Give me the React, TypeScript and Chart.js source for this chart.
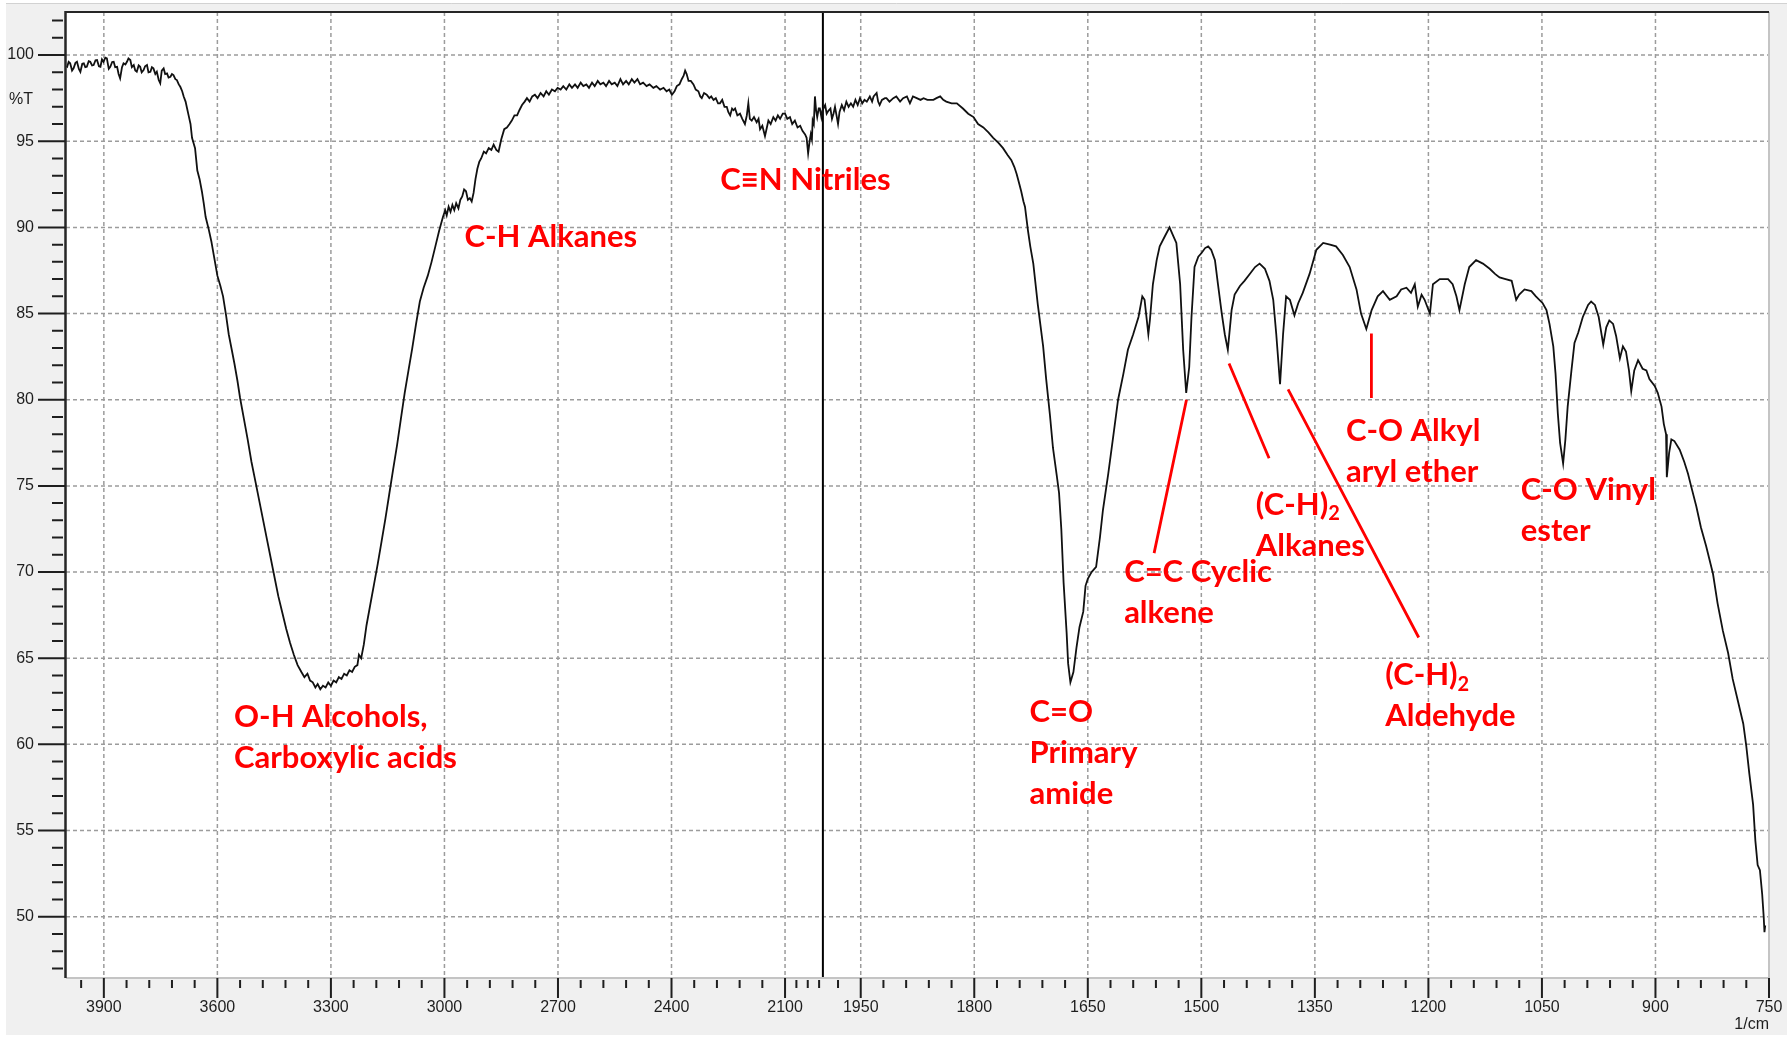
import React, { useEffect, useRef } from 'react';
import { Chart, registerables, LinearScale } from 'chart.js';

Chart.register(...registerables);

// ---- Spectrum: [wavenumber (1/cm), transmittance (%T)] ----
const hydroxylRegion: [number, number][] = [
  [3999, 99.35], [3997, 99.32], [3993, 99.6], [3989, 99.52], [3984, 99.1], [3980, 99.23], [3975, 99.55],
  [3971, 99.61], [3966, 99.2], [3962, 99.03], [3957, 99.5], [3953, 99.52], [3949, 99.3], [3945, 99.32],
  [3940, 99.65], [3936, 99.61], [3931, 99.4], [3927, 99.42], [3922, 99.7], [3918, 99.71], [3913, 99.35],
  [3909, 99.32], [3905, 99.75], [3901, 99.61], [3896, 99.85], [3892, 99.81], [3887, 99.2], [3883, 99.32],
  [3878, 99.6], [3874, 99.61], [3870, 99.3], [3865, 99.32], [3861, 98.9], [3857, 98.65], [3852, 99.3],
  [3848, 99.52], [3843, 99.45], [3839, 99.61], [3835, 99.8], [3830, 99.71], [3826, 99.3], [3821, 99.42],
  [3817, 99.1], [3813, 99.03], [3808, 99.4], [3804, 99.32], [3800, 99.0], [3795, 99.13], [3791, 99.35],
  [3786, 99.42], [3782, 99.0], [3777, 99.03], [3773, 99.3], [3769, 99.23], [3764, 98.9], [3760, 99.03],
  [3755, 98.55], [3751, 98.36], [3747, 99.1], [3742, 99.23], [3738, 98.9], [3733, 98.94], [3729, 98.7],
  [3724, 98.74], [3720, 98.9], [3716, 98.84], [3711, 98.6], [3707, 98.55], [3702, 98.3], [3698, 98.16],
  [3693, 97.9], [3689, 97.6], [3684, 97.3], [3680, 96.9], [3676, 96.5], [3671, 96.0], [3667, 95.2],
  [3663, 94.9], [3659, 94.6], [3653, 93.3], [3647, 92.8], [3641, 92.1], [3636, 91.4], [3631, 90.6],
  [3623, 89.9], [3616, 89.2], [3608, 88.2], [3600, 87.2], [3592, 86.6], [3585, 86.0], [3577, 84.9],
  [3570, 83.8], [3562, 82.9], [3555, 82.1], [3547, 81.1], [3540, 80.1], [3530, 78.9], [3520, 77.7],
  [3510, 76.4], [3499, 75.2], [3489, 74.1], [3479, 73.0], [3469, 71.9], [3459, 70.8], [3449, 69.7],
  [3439, 68.6], [3429, 67.7], [3418, 66.7], [3408, 65.9], [3398, 65.2], [3388, 64.6], [3378, 64.2],
  [3370, 63.9], [3362, 64.1], [3355, 63.7], [3348, 63.6], [3341, 63.3], [3335, 63.5], [3328, 63.2],
  [3321, 63.4], [3314, 63.3], [3307, 63.6], [3300, 63.4], [3293, 63.7], [3286, 63.6], [3279, 63.9],
  [3272, 63.8], [3265, 64.1], [3258, 64.0], [3251, 64.3], [3244, 64.2], [3237, 64.5], [3230, 64.6],
  [3226, 65.2], [3220, 65.0], [3213, 65.8], [3206, 66.9], [3196, 68.1], [3186, 69.3], [3176, 70.5],
  [3166, 71.8], [3156, 73.1], [3146, 74.5], [3136, 75.9], [3125, 77.4], [3115, 78.9], [3105, 80.4],
  [3095, 81.7], [3085, 83.0], [3075, 84.4], [3065, 85.7], [3055, 86.5], [3044, 87.2], [3034, 88.0],
  [3024, 88.9], [3014, 89.8], [3004, 90.6],
];

const stretchRegion: [number, number][] = [
  [2998, 91.0], [2994, 90.7], [2989, 91.2], [2984, 90.9], [2979, 91.3], [2974, 91.0], [2969, 91.4],
  [2963, 91.1], [2958, 91.6], [2953, 91.8], [2948, 92.2], [2943, 92.1], [2938, 91.6], [2933, 91.7],
  [2928, 91.5], [2923, 92.0], [2918, 92.8], [2913, 93.4], [2908, 93.8], [2903, 94.0], [2896, 94.4],
  [2890, 94.3], [2883, 94.6], [2876, 94.5], [2870, 94.8], [2863, 94.5], [2857, 94.4], [2850, 95.1],
  [2842, 95.7], [2835, 95.8], [2828, 96.0], [2822, 96.2], [2815, 96.5], [2808, 96.5], [2802, 96.8],
  [2795, 97.1], [2788, 97.3], [2782, 97.5], [2775, 97.3], [2768, 97.6], [2761, 97.7], [2754, 97.5],
  [2746, 97.8], [2738, 97.6], [2731, 97.9], [2724, 97.7], [2716, 98.0], [2708, 97.9], [2701, 98.1],
  [2693, 98.0], [2686, 98.2], [2678, 98.0], [2670, 98.3], [2663, 98.1], [2655, 98.3], [2648, 98.1],
  [2640, 98.4], [2633, 98.2], [2625, 98.3], [2618, 98.1], [2610, 98.4], [2603, 98.2], [2595, 98.5],
  [2588, 98.3], [2580, 98.4], [2573, 98.2], [2565, 98.5], [2558, 98.3], [2550, 98.4], [2543, 98.2],
  [2535, 98.6], [2528, 98.3], [2520, 98.5], [2513, 98.3], [2505, 98.6], [2498, 98.4], [2490, 98.6],
  [2483, 98.3], [2475, 98.4], [2466, 98.2], [2458, 98.3], [2448, 98.1], [2440, 98.2], [2430, 98.0],
  [2421, 98.1], [2413, 97.9], [2406, 98.0], [2399, 97.7], [2392, 97.9], [2386, 98.2], [2379, 98.3],
  [2373, 98.6], [2368, 98.8], [2364, 99.1], [2360, 98.9], [2355, 98.5], [2349, 98.5], [2342, 98.3],
  [2336, 98.0], [2329, 97.9], [2324, 97.6], [2320, 97.5], [2314, 97.8], [2307, 97.7], [2300, 97.5],
  [2295, 97.6], [2289, 97.4], [2283, 97.5], [2277, 97.2], [2272, 97.2], [2266, 97.4], [2260, 97.0],
  [2254, 97.0], [2250, 96.7], [2245, 96.5], [2240, 96.9], [2236, 96.8], [2232, 96.9], [2226, 96.5],
  [2219, 96.6], [2213, 96.3], [2206, 96.0], [2201, 96.5], [2197, 97.2], [2193, 96.3], [2188, 96.2],
  [2182, 96.4], [2175, 96.1], [2170, 96.3], [2166, 95.7], [2160, 95.9], [2153, 95.3], [2148, 95.8],
  [2144, 96.2], [2138, 96.0], [2131, 96.4], [2125, 96.2], [2119, 96.5], [2113, 96.3], [2106, 96.6],
  [2100, 96.6], [2094, 96.3], [2087, 96.4], [2081, 96.0], [2074, 96.2], [2067, 95.8], [2060, 95.9],
  [2054, 95.6], [2047, 95.4], [2043, 95.2], [2039, 94.3], [2035, 95.0], [2032, 95.4], [2029, 95.1],
  [2027, 96.2], [2024, 96.0], [2021, 97.6], [2018, 96.8], [2015, 96.4], [2011, 96.9], [2008, 96.9],
  [2004, 96.4], [2001, 96.8],
];

const carbonylRegion: [number, number][] = [
  [1997, 97.1], [1995, 96.6], [1993, 96.75], [1990, 96.9], [1988, 96.3], [1986, 96.6], [1984, 97.0],
  [1982, 96.5], [1980, 96.0], [1978, 96.7], [1975, 97.1], [1972, 96.8], [1969, 97.3], [1966, 97.0],
  [1963, 97.2], [1960, 97.0], [1957, 97.4], [1954, 97.1], [1951, 97.5], [1948, 97.2], [1945, 97.4],
  [1942, 97.3], [1938, 97.6], [1935, 97.3], [1933, 97.6], [1929, 97.8], [1927, 97.3], [1925, 97.1],
  [1922, 97.4], [1918, 97.5], [1916, 97.5], [1912, 97.3], [1907, 97.5], [1903, 97.6], [1898, 97.3],
  [1894, 97.5], [1889, 97.6], [1885, 97.2], [1881, 97.6], [1876, 97.5], [1871, 97.4], [1867, 97.5],
  [1862, 97.4], [1858, 97.4], [1854, 97.4], [1850, 97.5], [1845, 97.6], [1841, 97.4], [1837, 97.3],
  [1830, 97.2], [1823, 97.2], [1815, 96.9], [1808, 96.6], [1801, 96.4], [1795, 96.0], [1788, 95.8],
  [1781, 95.5], [1775, 95.2], [1768, 94.9], [1762, 94.6], [1756, 94.2], [1751, 93.9], [1747, 93.5],
  [1744, 93.1], [1741, 92.6], [1738, 92.1], [1735, 91.5], [1733, 91.2], [1729, 89.8], [1726, 88.9],
  [1722, 87.9], [1716, 85.5], [1709, 83.1], [1705, 81.2], [1700, 79.1], [1696, 77.2], [1691, 75.6],
  [1688, 74.6], [1685, 72.5], [1682, 69.4], [1678, 66.5], [1676, 64.7], [1673, 63.6], [1669, 64.2],
  [1665, 65.6], [1661, 66.8], [1656, 67.7], [1653, 69.2], [1650, 69.6], [1645, 70.0], [1639, 70.3],
  [1634, 72.0], [1630, 73.6], [1623, 75.7], [1616, 78.0], [1610, 80.0], [1603, 81.5], [1597, 82.9],
  [1590, 83.8], [1583, 84.8], [1578, 86.0], [1575, 85.8], [1570, 83.8], [1568, 84.6], [1564, 86.7],
  [1559, 88.1], [1555, 88.9], [1548, 89.5], [1542, 90.0], [1537, 89.5], [1533, 89.1], [1528, 86.7],
  [1524, 82.9], [1520, 80.4], [1516, 81.9], [1513, 84.8], [1509, 87.7], [1504, 88.3], [1500, 88.5],
];

const fingerprintRegion: [number, number][] = [
  [1495, 88.8], [1491, 88.9], [1487, 88.7], [1482, 88.1], [1478, 86.7], [1473, 85.0], [1469, 83.8],
  [1465, 82.9], [1460, 85.2], [1456, 86.1], [1449, 86.6], [1443, 86.9], [1436, 87.3], [1429, 87.7],
  [1423, 87.9], [1416, 87.6], [1410, 86.9], [1405, 85.8], [1401, 83.8], [1396, 80.9], [1392, 83.8],
  [1388, 86.0], [1383, 85.8], [1377, 84.9], [1372, 85.6], [1366, 86.2], [1357, 87.3], [1348, 88.7],
  [1339, 89.1], [1330, 89.0], [1322, 88.9], [1313, 88.4], [1304, 87.7], [1295, 86.4], [1289, 85.0],
  [1282, 84.1], [1275, 85.2], [1267, 86.0], [1260, 86.3], [1251, 85.8], [1242, 86.0], [1236, 86.4],
  [1229, 86.5], [1223, 86.2], [1218, 86.7], [1214, 85.4], [1209, 86.1], [1205, 85.8], [1198, 85.0],
  [1194, 86.7], [1185, 87.0], [1174, 87.0], [1168, 86.7], [1163, 86.0], [1159, 85.2], [1152, 86.7],
  [1146, 87.7], [1137, 88.1], [1128, 87.9], [1119, 87.6], [1112, 87.3], [1106, 87.1], [1098, 87.0],
  [1090, 86.9], [1084, 85.8], [1080, 86.1], [1073, 86.4], [1064, 86.3], [1058, 86.0], [1049, 85.6],
  [1044, 85.2], [1040, 84.4], [1035, 83.1], [1032, 81.5], [1029, 79.2], [1026, 77.5], [1022, 76.3],
  [1019, 77.7], [1016, 79.6], [1011, 81.7], [1007, 83.3], [1002, 83.9], [996, 84.8], [989, 85.5],
  [985, 85.7], [980, 85.5], [975, 84.8], [969, 83.2], [965, 84.2], [961, 84.6], [956, 84.4],
  [952, 83.7], [947, 82.4], [943, 83.1], [939, 82.8], [935, 81.7], [932, 80.5], [928, 81.7],
  [923, 82.3], [917, 81.8], [912, 81.7], [908, 81.2], [901, 80.8], [897, 80.4], [892, 79.6],
  [889, 78.6], [886, 78.0], [885, 75.5], [882, 76.9], [879, 77.7], [875, 77.6], [868, 77.1],
  [862, 76.4], [857, 75.7], [853, 75.0], [846, 73.8], [840, 72.6], [833, 71.5], [824, 69.9],
  [818, 68.2], [811, 66.6], [804, 65.3], [798, 63.8], [791, 62.5], [784, 61.2], [780, 59.9],
  [776, 58.3], [771, 56.5], [768, 54.4], [765, 53.0], [762, 52.7], [759, 51.3], [757, 50.0],
  [756, 49.1], [755, 49.5],
];

// ---- Axes ----
const WN_MAX = 4000;
const WN_BREAK = 2000; // the scale doubles below this wavenumber
const WN_MIN = 750;
const T_MIN = 46.5;
const T_MAX = 102.5;

const xMajorTicks = [3900, 3600, 3300, 3000, 2700, 2400, 2100, 1950, 1800, 1650, 1500, 1350, 1200, 1050, 900, 750];
const xGridTicks = [3900, 3600, 3300, 3000, 2700, 2400, 2100, 1950, 1800, 1650, 1500, 1350, 1200, 1050, 900];
const xNearBreakMinor = [2070, 2040, 2010];
const yMajorTicks = [50, 55, 60, 65, 70, 75, 80, 85, 90, 95, 100];

// ---- Band assignments ----
type Run = { text: string; sub?: boolean };
const bandLabelLines: Run[][][] = [
  [[{ text: 'O-H Alcohols,' }], [{ text: 'Carboxylic acids' }]],
  [[{ text: 'C-H Alkanes' }]],
  [[{ text: 'C\u2261N Nitriles' }]],
  [[{ text: 'C=O' }], [{ text: 'Primary' }], [{ text: 'amide' }]],
  [[{ text: 'C=C Cyclic' }], [{ text: 'alkene' }]],
  [[{ text: '(C-H)' }, { text: '2', sub: true }], [{ text: 'Alkanes' }]],
  [[{ text: 'C-O Alkyl' }], [{ text: 'aryl ether' }]],
  [[{ text: 'C-O Vinyl' }], [{ text: 'ester' }]],
  [[{ text: '(C-H)' }, { text: '2', sub: true }], [{ text: 'Aldehyde' }]],
];
// anchor of each label's first line: [wavenumber, %T]
const bandLabelAnchors: [number, number][] = [
  [3556, 61.6],
  [2947, 89.45],
  [2271, 92.75],
  [1727, 61.9],
  [1602, 70.0],
  [1428, 73.9],
  [1309, 78.2],
  [1078, 74.75],
  [1257, 64.0],
];
// leader lines: [wn1, %T1, wn2, %T2]
const leaderLines: [number, number, number, number][] = [
  [1519.6, 80.0, 1562.4, 71.1],
  [1463.4, 82.1, 1410.5, 76.6],
  [1385.4, 80.6, 1212.8, 66.2],
  [1275.3, 83.85, 1275.3, 80.1],
];

// Piecewise wavenumber axis: 4000-2000 at half the resolution of 2000-750.
const UNITS_AT_BREAK = (WN_MAX - WN_BREAK) / 2;
const TOTAL_UNITS = UNITS_AT_BREAK + (WN_BREAK - WN_MIN);
function toUnits(wn: number) {
  return wn >= WN_BREAK ? (WN_MAX - wn) / 2 : UNITS_AT_BREAK + (WN_BREAK - wn);
}
function fromUnits(u: number) {
  return u <= UNITS_AT_BREAK ? WN_MAX - 2 * u : WN_BREAK - (u - UNITS_AT_BREAK);
}

class SplitWavenumberScale extends LinearScale {
  static id = 'splitWavenumber';
  static defaults = LinearScale.defaults;
  getPixelForValue(value: number) {
    if (value === null || value === undefined || Number.isNaN(value)) return NaN;
    return this.getPixelForDecimal(toUnits(value) / TOTAL_UNITS);
  }
  getValueForPixel(pixel: number) {
    return fromUnits(this.getDecimalForPixel(pixel) * TOTAL_UNITS);
  }
}
Chart.register(SplitWavenumberScale as any);

const AXIS_FONT = '16px "Liberation Sans", Arial, sans-serif';
const AXIS_TEXT = '#1e1e1e';
const LABEL_FONT = 'bold 31px Lato, "Open Sans", sans-serif';
const SUB_FONT = 'bold 20px Lato, "Open Sans", sans-serif';
const LABEL_RED = '#ff0000';
const LINE_GAP = 41;

const spectrumFrame = {
  id: 'spectrumFrame',
  beforeDraw(chart: any) {
    const { ctx, chartArea: a, width, height } = chart;
    const xs = chart.scales.x;
    const ys = chart.scales.y;
    ctx.save();
    ctx.fillStyle = '#ffffff';
    ctx.fillRect(0, 0, width, height);
    ctx.fillStyle = '#f0f0f0';
    ctx.fillRect(6, 3, width - 6, height - 6);
    ctx.strokeStyle = '#d2d2d2';
    ctx.lineWidth = 1;
    ctx.beginPath();
    ctx.moveTo(6, 3.5);
    ctx.lineTo(width, 3.5);
    ctx.stroke();
    ctx.fillStyle = '#ffffff';
    ctx.fillRect(a.left, a.top, a.right - a.left, a.bottom - a.top);

    // dashed grid
    ctx.setLineDash([4, 3]);
    ctx.strokeStyle = '#9c9c9c';
    ctx.lineWidth = 1.5;
    for (const wn of xGridTicks) {
      const x = xs.getPixelForValue(wn);
      ctx.beginPath();
      ctx.moveTo(x, a.top);
      ctx.lineTo(x, a.bottom);
      ctx.stroke();
    }
    for (const t of yMajorTicks) {
      const y = ys.getPixelForValue(t);
      ctx.beginPath();
      ctx.moveTo(a.left, y);
      ctx.lineTo(a.right, y);
      ctx.stroke();
    }
    ctx.setLineDash([]);

    // resolution change marker
    const xb = xs.getPixelForValue(WN_BREAK);
    ctx.strokeStyle = '#000000';
    ctx.lineWidth = 2;
    ctx.beginPath();
    ctx.moveTo(xb, a.top);
    ctx.lineTo(xb, a.bottom);
    ctx.stroke();
    ctx.restore();
  },
  afterDatasetsDraw(chart: any) {
    const { ctx, chartArea: a } = chart;
    const xs = chart.scales.x;
    const ys = chart.scales.y;
    ctx.save();

    // plot frame
    ctx.lineWidth = 2;
    ctx.strokeStyle = '#c4c4c4';
    ctx.beginPath();
    ctx.moveTo(a.right, a.top);
    ctx.lineTo(a.right, a.bottom + 1);
    ctx.moveTo(a.left, a.bottom + 1);
    ctx.lineTo(a.right + 1, a.bottom + 1);
    ctx.stroke();
    ctx.strokeStyle = '#262626';
    ctx.beginPath();
    ctx.moveTo(a.left - 1, a.top);
    ctx.lineTo(a.right, a.top);
    ctx.stroke();
    ctx.lineWidth = 2.5;
    ctx.beginPath();
    ctx.moveTo(a.left - 0.5, a.top - 1);
    ctx.lineTo(a.left - 0.5, a.bottom + 1);
    ctx.stroke();

    // x ticks
    ctx.strokeStyle = '#1e1e1e';
    ctx.lineWidth = 2;
    const xMinor: number[] = [];
    for (let wn = 3960; wn > 2100; wn -= 60) if (!xMajorTicks.includes(wn)) xMinor.push(wn);
    xMinor.push(...xNearBreakMinor);
    for (let wn = 1980; wn > WN_MIN; wn -= 30) if (!xMajorTicks.includes(wn)) xMinor.push(wn);
    ctx.beginPath();
    for (const wn of xMajorTicks) {
      const x = xs.getPixelForValue(wn);
      ctx.moveTo(x, a.bottom + 1);
      ctx.lineTo(x, a.bottom + 21);
    }
    for (const wn of xMinor) {
      const x = xs.getPixelForValue(wn);
      ctx.moveTo(x, a.bottom + 3);
      ctx.lineTo(x, a.bottom + 11);
    }
    // y ticks
    for (const t of yMajorTicks) {
      const y = ys.getPixelForValue(t);
      ctx.moveTo(a.left - 28, y);
      ctx.lineTo(a.left - 1, y);
    }
    for (let t = 47; t <= 102; t++) {
      if (t % 5 === 0) continue;
      const y = ys.getPixelForValue(t);
      ctx.moveTo(a.left - 14, y);
      ctx.lineTo(a.left - 3, y);
    }
    ctx.stroke();

    // tick labels
    ctx.font = AXIS_FONT;
    ctx.fillStyle = AXIS_TEXT;
    ctx.textBaseline = 'middle';
    ctx.textAlign = 'center';
    for (const wn of xMajorTicks) {
      ctx.fillText(String(wn), xs.getPixelForValue(wn), a.bottom + 31);
    }
    ctx.textAlign = 'right';
    ctx.fillText('1/cm', a.right, a.bottom + 48);
    for (const t of yMajorTicks) {
      ctx.fillText(String(t), a.left - 32, ys.getPixelForValue(t));
    }
    ctx.fillText('%T', a.left - 33, a.top + 88);

    // band assignments
    ctx.strokeStyle = LABEL_RED;
    ctx.lineWidth = 2.8;
    ctx.beginPath();
    for (const [w1, t1, w2, t2] of leaderLines) {
      ctx.moveTo(xs.getPixelForValue(w1), ys.getPixelForValue(t1));
      ctx.lineTo(xs.getPixelForValue(w2), ys.getPixelForValue(t2));
    }
    ctx.stroke();

    ctx.fillStyle = LABEL_RED;
    ctx.textAlign = 'left';
    ctx.textBaseline = 'middle';
    bandLabelLines.forEach((lines, i) => {
      const [wn, t] = bandLabelAnchors[i];
      const x0 = xs.getPixelForValue(wn);
      const y0 = ys.getPixelForValue(t);
      lines.forEach((runs, j) => {
        let x = x0;
        const y = y0 + j * LINE_GAP;
        for (const run of runs) {
          ctx.font = run.sub ? SUB_FONT : LABEL_FONT;
          ctx.fillText(run.text, x, run.sub ? y + 9 : y);
          x += ctx.measureText(run.text).width;
        }
      });
    });
    ctx.restore();
  },
};

export default function App() {
  const canvasRef = useRef<HTMLCanvasElement>(null);

  useEffect(() => {
    const canvas = canvasRef.current;
    if (!canvas) return;
    const points = [...hydroxylRegion, ...stretchRegion, ...carbonylRegion, ...fingerprintRegion].map(
      ([wn, t]) => ({ x: wn, y: t })
    );
    const chart = new Chart(canvas, {
      type: 'line',
      data: {
        datasets: [
          {
            data: points,
            borderColor: '#111111',
            borderWidth: 1.8,
            pointRadius: 0,
            tension: 0,
            fill: false,
          },
        ],
      },
      options: {
        responsive: false,
        animation: false,
        devicePixelRatio: 1,
        events: [],
        parsing: { xAxisKey: 'x', yAxisKey: 'y' },
        layout: { padding: { left: 66, top: 12, right: 18, bottom: 61 } },
        plugins: { legend: { display: false }, tooltip: { enabled: false } },
        scales: {
          x: { type: 'splitWavenumber' as any, min: WN_MIN, max: WN_MAX, display: false },
          y: { type: 'linear', min: T_MIN, max: T_MAX, display: false },
        },
      },
      plugins: [spectrumFrame],
    });
    return () => chart.destroy();
  }, []);

  return (
    <div style={{ position: 'absolute', left: 0, top: 0, width: 1787, height: 1038 }}>
      <canvas ref={canvasRef} width={1787} height={1038} style={{ display: 'block', width: 1787, height: 1038 }} />
    </div>
  );
}
